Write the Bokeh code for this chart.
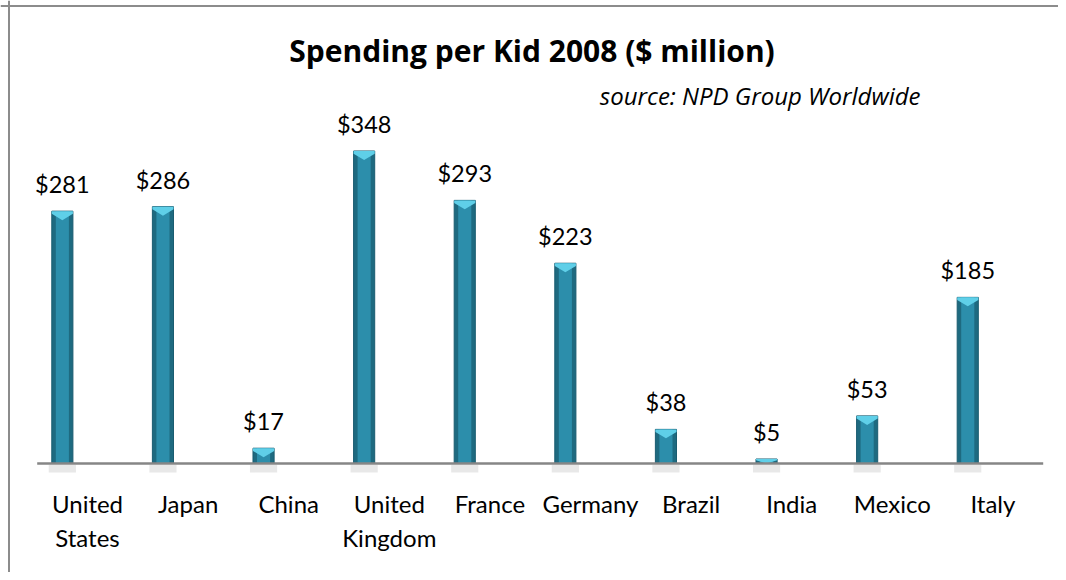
from bokeh.plotting import figure
from bokeh.models import Range1d, Span, ColumnDataSource
from bokeh.core.properties import value
from bokeh.embed import file_html
from bokeh.resources import INLINE

# ---- data ----
categories = ["United\nStates", "Japan", "China", "United\nKingdom", "France",
              "Germany", "Brazil", "India", "Mexico", "Italy"]
spending = [281, 286, 17, 348, 293, 223, 38, 5, 53, 185]
value_labels = ["$" + str(v) for v in spending]
title_text = "Spending per Kid 2008 ($ million)"
subtitle_text = "source: NPD Group Worldwide"

# ---- layout (pixel geometry of the picture) ----
W, H = 1058, 572
X0, Y0 = 0, 0
CAT0_PX, CAT_STEP = 87.0, 100.6
BASE_PX, PX_PER_UNIT = 463.0, 0.898

def dx(px):
    return (px - CAT0_PX) / CAT_STEP

def dy(py):
    return (BASE_PX - py) / PX_PER_UNIT

p = figure(width=W, height=H, output_backend="svg", toolbar_location=None,
           x_axis_type=None, y_axis_type=None, min_border=0,
           x_range=Range1d(dx(X0), dx(X0 + W)), y_range=Range1d(dy(Y0 + H), dy(Y0)))
p.grid.visible = False
p.outline_line_color = None
p.background_fill_color = "white"
p.border_fill_color = "white"

n = len(categories)
idx = list(range(n))
bar_x = [i - 0.25 for i in idx]
bw = 0.21
src = ColumnDataSource(dict(x=bar_x, top=spending, lab=value_labels))

# shadow under bars
p.vbar(x=bar_x, width=bw + 0.06, top=-1.5, bottom=-10, fill_color="#d9d9d9",
       fill_alpha=0.6, line_color=None)

# bars: dark edge + lighter core
p.vbar(x="x", top="top", bottom=0, width=bw, source=src,
       fill_color="#1e6a80", line_color="#1a5c70", line_width=1)
p.vbar(x="x", top="top", bottom=0, width=bw * 0.62, source=src,
       fill_color="#2c8eab", line_color=None)

# light chevron cap
cap_xs, cap_ys = [], []
for x, v in zip(bar_x, spending):
    d = min(10.0, v)
    cap_xs.append([x - bw / 2, x + bw / 2, x + bw / 2, x, x - bw / 2])
    cap_ys.append([v, v, v - d * 0.3, v - d, v - d * 0.3])
p.patches(cap_xs, cap_ys, fill_color="#5fcfe8", line_color=None)

# baseline axis
p.segment(x0=[-0.5], x1=[n - 0.5], y0=[0], y1=[0], line_color="#868686", line_width=2.5)

# value labels
p.text(x="x", y="top", text="lab", source=src, y_offset=-27,
       text_align="center", text_baseline="alphabetic",
       text_font=value("Lato"), text_font_size="23.5px", text_color="#000000")

# category labels (two lines)
line1 = [c.split("\n")[0] for c in categories]
line2 = [c.split("\n")[1] if "\n" in c else "" for c in categories]
p.text(x=idx, y=[dy(503)] * n, text=line1, text_align="center",
       text_baseline="alphabetic", text_font=value("Lato"),
       text_font_size="24px", text_color="#000000")
p.text(x=idx, y=[dy(536.5)] * n, text=line2, text_align="center",
       text_baseline="alphabetic", text_font=value("Lato"),
       text_font_size="24px", text_color="#000000")

# title + subtitle
p.text(x=[dx(531.5)], y=[dy(50)], text=[title_text], text_align="center",
       text_baseline="alphabetic", text_font=value("Open Sans"), text_font_style="bold",
       text_font_size="30px", text_color="#000000")
p.text(x=[dx(920)], y=[dy(94.5)], text=[subtitle_text], text_align="right",
       text_baseline="alphabetic", text_font=value("Open Sans"), text_font_style="italic",
       text_font_size="24px", text_color="#000000")

# chart border (left and top visible)
p.add_layout(Span(location=dx(8.5), dimension="height", line_color="#8c8c8c", line_width=2))
p.add_layout(Span(location=dy(5.5), dimension="width", line_color="#8c8c8c", line_width=2))

open("out.html", "w").write(file_html(p, INLINE))
